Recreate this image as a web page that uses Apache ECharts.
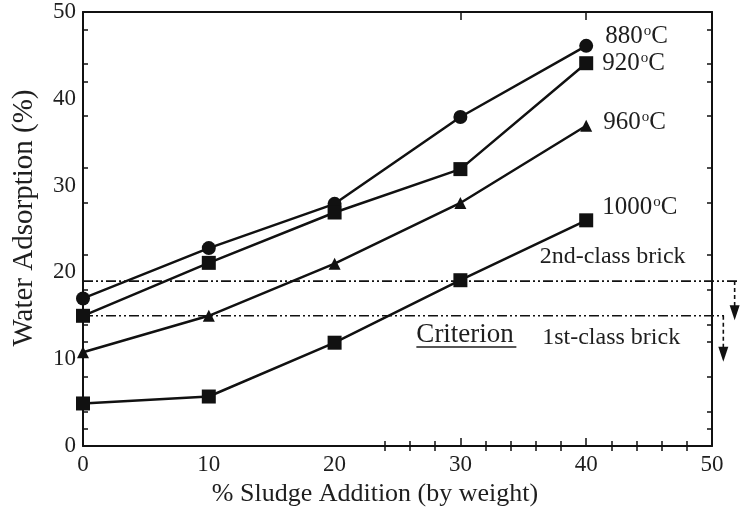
<!DOCTYPE html>
<html>
<head>
<meta charset="utf-8">
<script src="https://cdn.jsdelivr.net/npm/echarts@6/dist/echarts.min.js"></script>
<style>
  html, body { margin: 0; padding: 0; background: #fff; }
  #chart { width: 740px; height: 513px; }
</style>
</head>
<body>
<div id="chart"></div>
<script>
// Sludge content in the brick mix (% by weight)
const sludge = [0, 10, 20, 30, 40];

// Water adsorption (%) for each firing temperature
const temp880 = [17.0, 22.8, 27.9, 37.9, 46.1];
const temp920 = [15.0, 21.1, 26.9, 31.9, 44.1];
const temp960 = [10.8, 15.0, 21.0, 28.0, 36.9];
const temp1000 = [4.9, 5.7, 11.9, 19.1, 26.0];

const temperatures = ['880', '920', '960', '1000'];

// Brick-class limits for water adsorption (%)
const secondClassLimit = 19;
const firstClassLimit = 15;

// Axis ticks
const xLabels = [0, 10, 20, 30, 40, 50];
const yLabels = [0, 10, 20, 30, 40, 50];
const xMajorTicks = [30, 40];
const xMinorTicks = [24, 26, 28, 32, 34, 36, 38, 42, 44, 46, 48];
const yTicks = [2, 4, 8, 12, 14, 18, 22, 28, 32, 38, 42, 44, 48];

const FONT = 'Liberation Serif';
const INK = '#111';
const TEXT = '#1e1e1e';

const chart = echarts.init(document.getElementById('chart'));

function pairs(ys) { return sludge.map((x, i) => [x, ys[i]]); }

const seriesDefs = [
  { values: temp880, symbol: 'circle', size: 14, label: [19, -9] },
  { values: temp920, symbol: 'rect', size: 14, label: [16, 0] },
  { values: temp960, symbol: 'triangle', size: 12, label: [17, -3] },
  { values: temp1000, symbol: 'rect', size: 14, label: [16, -13] }
];

const dataSeries = seriesDefs.map((d, i) => ({
  name: temperatures[i] + '°C',
  type: 'line',
  data: pairs(d.values),
  symbol: d.symbol,
  symbolSize: d.size,
  showAllSymbol: true,
  lineStyle: { color: INK, width: 2.5 },
  itemStyle: { color: INK },
  z: 5,
  endLabel: {
    show: true,
    distance: 0,
    offset: d.label,
    formatter: () => '{n|' + temperatures[i] + '}{s|o}{n|C}',
    rich: {
      n: { fontFamily: FONT, fontSize: 25, color: TEXT, lineHeight: 26 },
      s: { fontFamily: FONT, fontSize: 15, color: TEXT, verticalAlign: 'top', lineHeight: 26, padding: [0, 0, 0, 1] }
    }
  }
}));

const axisLine = { show: true, onZero: false, lineStyle: { color: INK, width: 2 } };
const tickStyle = { color: INK, width: 1.5 };

const option = {
  animation: false,
  backgroundColor: '#fff',
  grid: { left: 83, right: 28, top: 12, bottom: 67, containLabel: false },
  xAxis: [
    {
      type: 'value', min: 0, max: 50, interval: 10, position: 'bottom',
      name: '% Sludge Addition (by weight)', nameLocation: 'middle', nameGap: 35,
      nameTextStyle: { fontFamily: FONT, fontSize: 26, color: TEXT, padding: [0, 45, 0, 0] },
      axisLine: axisLine,
      axisTick: { show: true, inside: true, length: 8, customValues: xMajorTicks, lineStyle: tickStyle },
      axisLabel: { customValues: xLabels, fontFamily: FONT, fontSize: 23, color: TEXT, margin: 7 },
      splitLine: { show: false }
    },
    {
      type: 'value', min: 0, max: 50, interval: 10, position: 'bottom',
      axisLine: { show: false },
      axisTick: { show: true, inside: true, length: 5, customValues: xMinorTicks, lineStyle: tickStyle },
      axisLabel: { show: false }, splitLine: { show: false }
    },
    {
      type: 'value', min: 0, max: 50, interval: 10, position: 'top',
      axisLine: axisLine,
      axisTick: { show: true, inside: true, length: 8, customValues: xMajorTicks, lineStyle: tickStyle },
      axisLabel: { show: false }, splitLine: { show: false }
    },
    {
      type: 'value', min: 0, max: 50, interval: 10, position: 'top',
      axisLine: { show: false },
      axisTick: { show: true, inside: true, length: 5, customValues: xMinorTicks, lineStyle: tickStyle },
      axisLabel: { show: false }, splitLine: { show: false }
    }
  ],
  yAxis: [
    {
      type: 'value', min: 0, max: 50, interval: 10, position: 'left',
      name: 'Water Adsorption (%)', nameLocation: 'middle', nameGap: 44,
      nameTextStyle: { fontFamily: FONT, fontSize: 29, color: TEXT, padding: [0, 0, 0, 22] },
      axisLine: axisLine,
      axisTick: { show: true, inside: true, length: 5, customValues: yTicks, lineStyle: tickStyle },
      axisLabel: { customValues: yLabels, fontFamily: FONT, fontSize: 23, color: TEXT, margin: 7 },
      splitLine: { show: false }
    },
    {
      type: 'value', min: 0, max: 50, interval: 10, position: 'right',
      axisLine: axisLine,
      axisTick: { show: true, inside: true, length: 5, customValues: yTicks, lineStyle: tickStyle },
      axisLabel: { show: false }, splitLine: { show: false }
    }
  ],
  series: dataSeries
};

chart.setOption(option);

// Limit lines run from the y axis to just past the right frame,
// each ending in a dashed drop arrow (pointing toward "below the limit").
const px = (x, y) => chart.convertToPixel({ xAxisIndex: 0, yAxisIndex: 0 }, [x, y]);

function limitGraphics(limit, xEnd, xArrow, yTip) {
  const a = px(0, limit), b = px(xEnd, limit);
  const top = px(xArrow, limit), tip = px(xArrow, yTip);
  const headH = 15, headW = 10;
  return [
    { type: 'line', silent: true, z: 1,
      shape: { x1: a[0], y1: a[1], x2: b[0], y2: b[1] },
      style: { stroke: INK, lineWidth: 1.6, lineDash: [10, 3, 2, 3, 2, 3] } },
    { type: 'line', silent: true, z: 1,
      shape: { x1: top[0], y1: top[1], x2: tip[0], y2: tip[1] - headH + 2 },
      style: { stroke: INK, lineWidth: 1.6, lineDash: [4, 3] } },
    { type: 'polygon', silent: true, z: 1,
      shape: { points: [[tip[0] - headW / 2, tip[1] - headH], [tip[0] + headW / 2, tip[1] - headH], [tip[0], tip[1]]] },
      style: { fill: INK } }
  ];
}

const p2nd = px(36.3, 21.8);
const p1st = px(36.5, 12.5);
const pCrit = px(26.5, 12.8);

chart.setOption({
  graphic: [
    ...limitGraphics(secondClassLimit, 52.0, 51.8, 14.5),
    ...limitGraphics(firstClassLimit, 51.0, 50.9, 9.7),
    { type: 'text', x: p2nd[0], y: p2nd[1], silent: true,
      style: { text: '2nd-class brick', fontFamily: FONT, fontSize: 24, fill: TEXT, verticalAlign: 'middle' } },
    { type: 'text', x: p1st[0], y: p1st[1], silent: true,
      style: { text: '1st-class brick', fontFamily: FONT, fontSize: 24, fill: TEXT, verticalAlign: 'middle' } },
    { type: 'text', x: pCrit[0], y: pCrit[1], silent: true,
      style: { text: 'Criterion', fontFamily: FONT, fontSize: 27, fill: TEXT, verticalAlign: 'middle' } },
    { type: 'line', silent: true,
      shape: { x1: pCrit[0], y1: pCrit[1] + 12, x2: pCrit[0] + 100, y2: pCrit[1] + 12 },
      style: { stroke: TEXT, lineWidth: 1.5 } }
  ]
});
</script>
</body>
</html>
